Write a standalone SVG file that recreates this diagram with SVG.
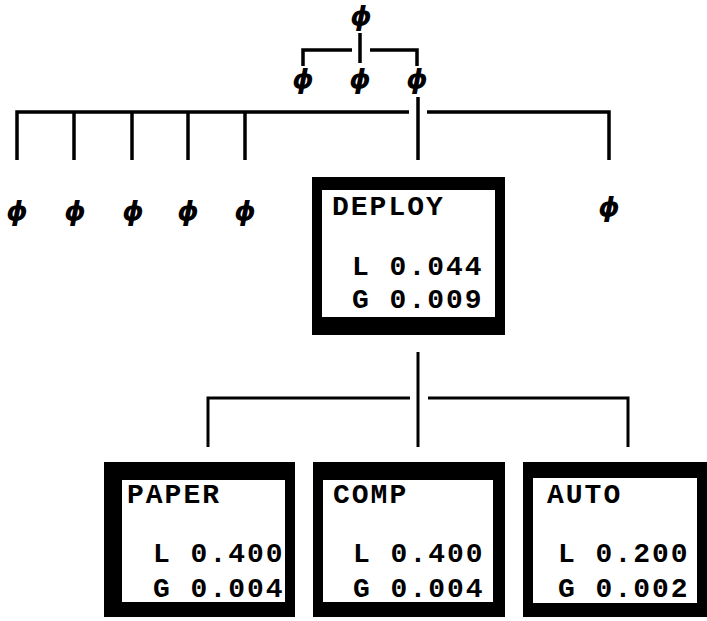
<svg xmlns="http://www.w3.org/2000/svg" width="707" height="621" viewBox="0 0 707 621">
<style>
.bg{fill:#fff}
.outer{fill:#000}
.inner{fill:#fff}
.t{font-family:"Liberation Mono","Courier New",monospace;font-weight:bold;font-size:28px;letter-spacing:2px;fill:#000}
.phi{font-family:"DejaVu Sans",sans-serif;font-weight:bold;font-style:italic;font-size:27px;fill:#000;text-anchor:middle}
.c{fill:none;stroke:#000;stroke-width:3.5;stroke-linecap:butt;stroke-linejoin:miter}
.c2{fill:none;stroke:#000;stroke-width:3;stroke-linejoin:miter}
</style>
<rect class="bg" x="0" y="0" width="707" height="621"/>
<g id="connectors">
  <path class="c" d="M360,33 V63"/>
  <path class="c" d="M303,66 V50 H352"/>
  <path class="c" d="M370,50 H417 V66"/>
  <path class="c" d="M418,97 V160"/>
  <path class="c" d="M17,160 V112 H409"/>
  <path class="c" d="M427,112 H609 V160"/>
  <path class="c" d="M74,112 V160"/>
  <path class="c" d="M132,112 V160"/>
  <path class="c" d="M188,112 V160"/>
  <path class="c" d="M245,112 V160"/>
  <path class="c2" d="M418,352 V447"/>
  <path class="c2" d="M208,447 V398 H410"/>
  <path class="c2" d="M428,398 H628 V447"/>
</g>
<g id="phi-root"><text class="phi" x="361" y="25">ϕ</text></g>
<g id="phi-a"><text class="phi" x="303" y="88">ϕ</text></g>
<g id="phi-b"><text class="phi" x="360" y="88">ϕ</text></g>
<g id="phi-c"><text class="phi" x="417" y="88">ϕ</text></g>
<g id="phi-1"><text class="phi" x="17" y="220">ϕ</text></g>
<g id="phi-2"><text class="phi" x="75" y="220">ϕ</text></g>
<g id="phi-3"><text class="phi" x="133" y="220">ϕ</text></g>
<g id="phi-4"><text class="phi" x="188" y="220">ϕ</text></g>
<g id="phi-5"><text class="phi" x="245" y="220">ϕ</text></g>
<g id="phi-6"><text class="phi" x="609" y="216">ϕ</text></g>
<g id="deploy">
  <rect class="outer" x="312" y="177" width="193" height="158"/>
  <rect class="inner" x="322" y="190" width="173" height="127"/>
  <text class="t" x="332" y="215">DEPLOY</text>
  <text class="t" x="352" y="275">L 0.044</text>
  <text class="t" x="352" y="308">G 0.009</text>
</g>
<g id="paper">
  <rect class="outer" x="104" y="462" width="191" height="155"/>
  <rect class="inner" x="122" y="480" width="163" height="122"/>
  <text class="t" x="127" y="503">PAPER</text>
  <text class="t" x="153" y="562">L 0.400</text>
  <text class="t" x="153" y="597">G 0.004</text>
</g>
<g id="comp">
  <rect class="outer" x="313" y="462" width="192" height="155"/>
  <rect class="inner" x="323" y="480" width="170" height="122"/>
  <text class="t" x="333" y="503">COMP</text>
  <text class="t" x="353" y="562">L 0.400</text>
  <text class="t" x="353" y="597">G 0.004</text>
</g>
<g id="auto">
  <rect class="outer" x="523" y="462" width="184" height="155"/>
  <rect class="inner" x="533" y="478" width="164" height="125"/>
  <text class="t" x="547" y="503">AUTO</text>
  <text class="t" x="558" y="562">L 0.200</text>
  <text class="t" x="558" y="597">G 0.002</text>
</g>
</svg>
